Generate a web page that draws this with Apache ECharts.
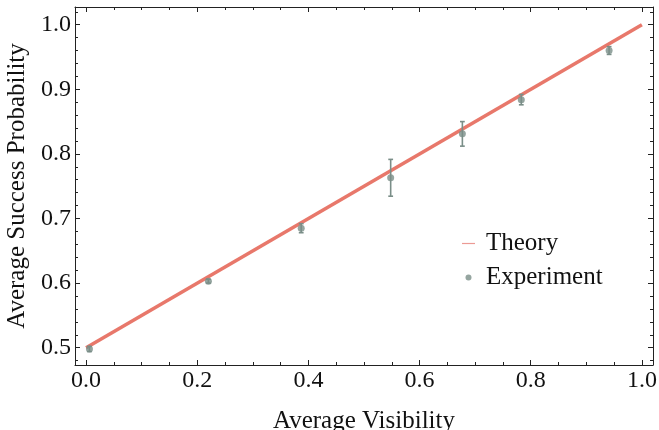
<!DOCTYPE html>
<html>
<head>
<meta charset="utf-8">
<script src="https://cdn.jsdelivr.net/npm/echarts@6/dist/echarts.min.js"></script>
<style>html,body{margin:0;padding:0;background:#fff}#c{width:659px;height:430px}</style>
</head>
<body>
<div id="c"></div>
<script>
// ---- data ----
const visibility = [0.006, 0.220, 0.387, 0.548, 0.677, 0.783, 0.941];
const successProb = [0.498, 0.603, 0.685, 0.763, 0.831, 0.884, 0.960];
const successErr = [0.004, 0.003, 0.007, 0.0285, 0.019, 0.008, 0.006];
const theoryX = [0, 1];
const theoryY = [0.5, 1.0];
const xTickLabels = [0, 0.2, 0.4, 0.6, 0.8, 1.0];
const yTickLabels = [0.5, 0.6, 0.7, 0.8, 0.9, 1.0];
const xMinorTicks = [0,0.05,0.1,0.15,0.2,0.25,0.3,0.35,0.4,0.45,0.5,0.55,0.6,0.65,0.7,0.75,0.8,0.85,0.9,0.95,1.0];
const yMinorTicks = [0.48,0.5,0.52,0.54,0.56,0.58,0.6,0.62,0.64,0.66,0.68,0.7,0.72,0.74,0.76,0.78,0.8,0.82,0.84,0.86,0.88,0.9,0.92,0.94,0.96,0.98,1.0,1.02];

const FONT = 'Liberation Serif';
const AX = '#222';
const LINE_C = '#E8786B';
const PT_C = '#7A8E88';
const XMIN = -0.02, XMAX = 1.02, YMIN = 0.4732, YMAX = 1.0274;

function xAx(pos, major, label) {
  return {
    type: 'value', position: pos, min: XMIN, max: XMAX,
    splitLine: {show: false},
    axisLine: {show: major, onZero: false, lineStyle: {color: AX, width: 1}},
    axisTick: {show: true, inside: true, length: major ? 5 : 3, lineStyle: {color: AX, width: 1},
               customValues: major ? xTickLabels : xMinorTicks},
    axisLabel: {show: label, customValues: xTickLabels, formatter: v => v.toFixed(1),
                fontFamily: FONT, fontSize: 24, color: '#111', margin: 4},
    name: label ? 'Average Visibility' : '', nameLocation: 'middle', nameGap: 44,
    nameTextStyle: {fontFamily: FONT, fontSize: 25, color: '#111'}
  };
}
function yAx(pos, major, label) {
  return {
    type: 'value', position: pos, min: YMIN, max: YMAX,
    splitLine: {show: false},
    axisLine: {show: major, onZero: false, lineStyle: {color: AX, width: 1}},
    axisTick: {show: true, inside: true, length: major ? 5 : 3, lineStyle: {color: AX, width: 1},
               customValues: major ? yTickLabels : yMinorTicks},
    axisLabel: {show: label, customValues: yTickLabels, formatter: v => v.toFixed(1),
                fontFamily: FONT, fontSize: 24, color: '#111', margin: 4},
    name: label ? 'Average Success Probability' : '', nameLocation: 'middle', nameGap: 42,
    nameTextStyle: {fontFamily: FONT, fontSize: 25, color: '#111'}
  };
}

const chart = echarts.init(document.getElementById('c'), null, {renderer: 'canvas'});
chart.setOption({
  animation: false,
  backgroundColor: '#fff',
  grid: {left: 75, right: 6, top: 7, bottom: 65, containLabel: false, outerBoundsMode: 'none'},
  xAxis: [xAx('bottom', true, true), xAx('bottom', false, false), xAx('top', true, false), xAx('top', false, false)],
  yAxis: [yAx('left', true, true), yAx('left', false, false), yAx('right', true, false), yAx('right', false, false)],
  legend: {
    orient: 'vertical', left: 457, top: 226, itemGap: 9, itemWidth: 13, itemHeight: 6,
    symbolKeepAspect: true,
    textStyle: {fontFamily: FONT, fontSize: 25, color: '#111', lineHeight: 25, padding: [0, 0, 0, 6]},
    data: [
      {name: 'Theory', icon: 'path://M0,0h13v1.2h-13z', itemStyle: {color: '#EC9A94', borderWidth: 0}},
      {name: 'Experiment', icon: 'circle'}
    ]
  },
  series: [
    {
      name: 'Theory', type: 'line', xAxisIndex: 0, yAxisIndex: 0,
      data: theoryX.map((x, i) => [x, theoryY[i]]),
      symbol: 'none', lineStyle: {color: LINE_C, width: 3.6}, itemStyle: {color: LINE_C}, z: 2
    },
    {
      name: 'ErrorBars', type: 'custom', xAxisIndex: 0, yAxisIndex: 0, z: 3,
      data: visibility.map((x, i) => [x, successProb[i], successErr[i]]),
      renderItem: function (params, api) {
        const x = api.value(0), y = api.value(1), e = api.value(2);
        const lo = api.coord([x, y - e]), hi = api.coord([x, y + e]);
        const st = {stroke: PT_C, lineWidth: 1.6};
        return {type: 'group', children: [
          {type: 'line', shape: {x1: lo[0], y1: lo[1], x2: hi[0], y2: hi[1]}, style: st},
          {type: 'line', shape: {x1: lo[0] - 2.4, y1: lo[1], x2: lo[0] + 2.4, y2: lo[1]}, style: st},
          {type: 'line', shape: {x1: hi[0] - 2.4, y1: hi[1], x2: hi[0] + 2.4, y2: hi[1]}, style: st}
        ]};
      }
    },
    {
      name: 'Experiment', type: 'scatter', xAxisIndex: 0, yAxisIndex: 0, z: 4,
      data: visibility.map((x, i) => [x, successProb[i]]),
      symbol: 'circle', symbolSize: 7, itemStyle: {color: PT_C}
    }
  ]
});
</script>
</body>
</html>
